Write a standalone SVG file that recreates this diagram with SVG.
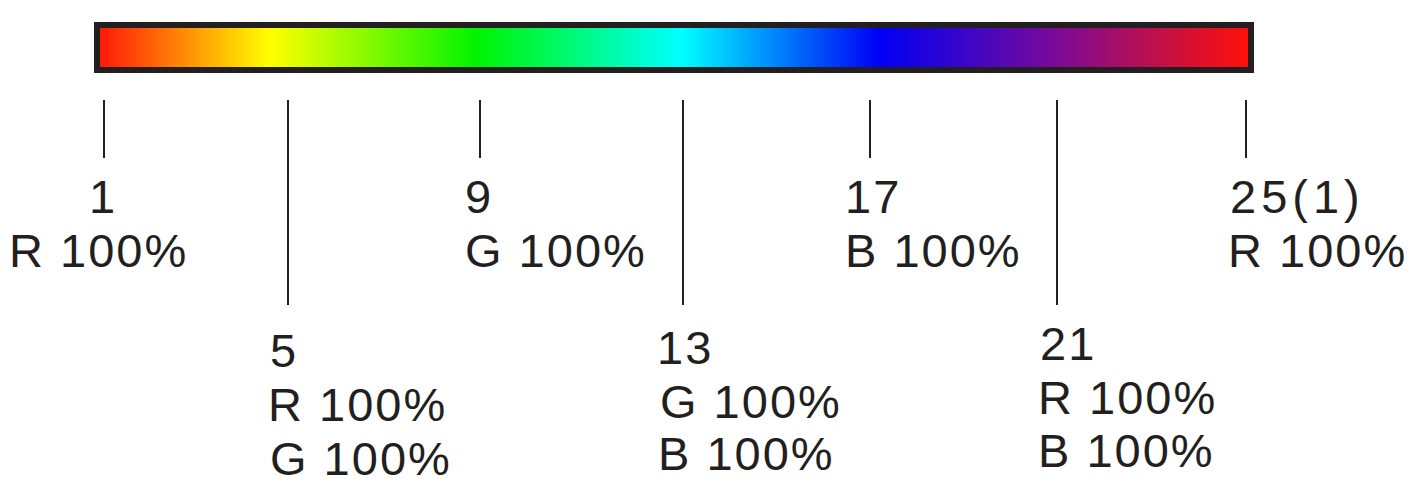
<svg xmlns="http://www.w3.org/2000/svg" width="1423" height="493" viewBox="0 0 1423 493">
<style>
.t{font-family:"Liberation Sans",Arial,sans-serif;font-size:47px;fill:#231f20;letter-spacing:2px}
.tick{stroke:#231f20;stroke-width:2;fill:none}
</style>
<defs>
<linearGradient id="spec" x1="100" y1="0" x2="1249" y2="0" gradientUnits="userSpaceOnUse">
<stop offset="0" stop-color="#ff1a0a"/>
<stop offset="0.148" stop-color="#ffff00"/>
<stop offset="0.328" stop-color="#00f400"/>
<stop offset="0.506" stop-color="#00ffff"/>
<stop offset="0.678" stop-color="#0000f5"/>
<stop offset="0.833" stop-color="#7c0a96"/>
<stop offset="0.92" stop-color="#c0104a"/>
<stop offset="1" stop-color="#ff1008"/>
</linearGradient>
</defs>
<rect width="1423" height="493" fill="#ffffff"/>
<g id="bar">
<rect x="97" y="25" width="1154" height="45" fill="url(#spec)" stroke="#231f20" stroke-width="6"/>
</g>
<g id="connectors">
<line class="tick" x1="104" y1="100" x2="104" y2="158"/>
<line class="tick" x1="288" y1="100" x2="288" y2="305"/>
<line class="tick" x1="480" y1="100" x2="480" y2="158"/>
<line class="tick" x1="683" y1="100" x2="683" y2="305"/>
<line class="tick" x1="870" y1="100" x2="870" y2="158"/>
<line class="tick" x1="1057" y1="100" x2="1057" y2="305"/>
<line class="tick" x1="1246" y1="100" x2="1246" y2="158"/>
</g>
<g id="n1">
<text class="t" x="103" y="213" text-anchor="middle">1</text>
<text class="t" x="9" y="267">R 100%</text>
</g>
<g id="n5">
<text class="t" x="270" y="367">5</text>
<text class="t" x="268" y="421">R 100%</text>
<text class="t" x="270" y="475">G 100%</text>
</g>
<g id="n9">
<text class="t" x="465" y="213">9</text>
<text class="t" x="465" y="267">G 100%</text>
</g>
<g id="n13">
<text class="t" x="657" y="364">13</text>
<text class="t" x="660" y="418">G 100%</text>
<text class="t" x="658" y="470">B 100%</text>
</g>
<g id="n17">
<text class="t" x="845" y="213">17</text>
<text class="t" x="845" y="267">B 100%</text>
</g>
<g id="n21">
<text class="t" x="1040" y="360">21</text>
<text class="t" x="1038" y="414">R 100%</text>
<text class="t" x="1038" y="467">B 100%</text>
</g>
<g id="n25">
<text class="t" x="1230" y="213" style="letter-spacing:5px">25(1)</text>
<text class="t" x="1228" y="267">R 100%</text>
</g>
</svg>
